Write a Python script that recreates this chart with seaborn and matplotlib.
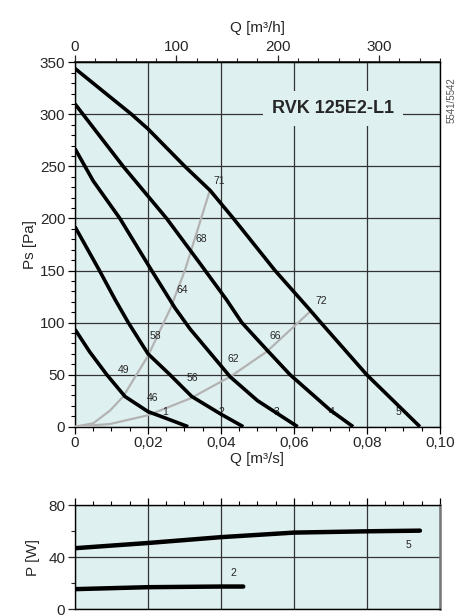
import numpy as np
import pandas as pd
import matplotlib
matplotlib.use('Agg')
import matplotlib.pyplot as plt
import seaborn as sns
from matplotlib.ticker import MultipleLocator, FixedLocator, FuncFormatter

# fan curves Ps(Q), Q in m3/s
q1 = [0, 0.004, 0.0087, 0.0137, 0.020, 0.025, 0.031]
p1 = [93.5, 72, 50, 29, 14.5, 8, 0]
q2 = [0, 0.0067, 0.011, 0.0146, 0.020, 0.026, 0.032, 0.040, 0.0461]
p2 = [192, 150, 122, 100, 70, 50, 29, 12, 0]
q3 = [0, 0.005, 0.0123, 0.021, 0.0274, 0.0315, 0.0425, 0.050, 0.061]
p3 = [267, 236, 200, 150, 114, 94, 48, 25, 0]
q4 = [0, 0.0132, 0.0251, 0.0342, 0.0415, 0.0457, 0.0525, 0.0589, 0.0699, 0.0762]
p4 = [310, 250, 200, 157, 122, 100, 74, 50, 16, 0]
q5 = [0, 0.0155, 0.020, 0.0301, 0.037, 0.0434, 0.0548, 0.0644, 0.0671, 0.0799, 0.0945]
p5 = [344, 300, 286, 250, 227, 200, 150, 112, 101, 50, 0]

# system curves (grey)
qa = [0, 0.005, 0.0096, 0.0132, 0.020, 0.0262, 0.0301, 0.037]
pa = [0, 3.3, 15.5, 29, 68, 114, 150, 227.5]
qb = [0, 0.0096, 0.020, 0.0315, 0.0425, 0.0525, 0.0644]
pb = [0, 2.6, 11, 27, 48, 72, 110.5]

# sound labels along the system curves
lbl_txt = ['71', '68', '64', '58', '49', '46', '56', '62', '66', '72']
lbl_q = [0.0395, 0.0345, 0.0295, 0.0219, 0.0132, 0.0213, 0.0321, 0.0434, 0.0548, 0.0675]
lbl_p = [236, 180, 131, 87, 54, 28, 47, 65, 87, 121]

# curve numbers
num_txt = ['1', '2', '3', '4', '5']
num_q = [0.0248, 0.0402, 0.0553, 0.0703, 0.0886]

# power curves
pw_q2 = [0, 0.02, 0.04, 0.0461]
pw_p2 = [15.5, 17, 17.5, 17.5]
pw_q5 = [0, 0.02, 0.04, 0.06, 0.08, 0.0945]
pw_p5 = [47, 51, 55.5, 59, 60, 60.5]

sns.set_theme(style='white')
plt.rcParams['font.family'] = ['Liberation Sans', 'DejaVu Sans']

bg = '#dff0f0'
grid_c = '#333333'

fig = plt.figure(figsize=(4.57, 6.16), dpi=100)
ax = fig.add_axes([0.1641, 0.3073, 0.7987, 0.5916])
axp = fig.add_axes([0.1641, 0.0109, 0.7987, 0.1688])

comma = FuncFormatter(lambda v, p: '0' if v == 0 else f'{v:.2f}'.replace('.', ','))

# ---- pressure chart
ax.set_facecolor(bg)
for q, p in [(q1, p1), (q2, p2), (q3, p3), (q4, p4), (q5, p5)]:
    sns.lineplot(x=q, y=p, ax=ax, color='black', lw=2.6, sort=False,
                 estimator=None, zorder=4, solid_capstyle='butt',
                 solid_joinstyle='round')
for q, p in [(qa, pa), (qb, pb)]:
    sns.lineplot(x=q, y=p, ax=ax, color='#b3b3b3', lw=1.6, sort=False,
                 estimator=None, zorder=3, solid_joinstyle='round')

for t, x, y in zip(lbl_txt, lbl_q, lbl_p):
    ax.text(x, y, t, fontsize=7.5, ha='center', va='center', zorder=5)
for t, x in zip(num_txt, num_q):
    ax.text(x, 14, t, fontsize=7.5, ha='center', va='center', zorder=3)

ax.set_xlim(0, 0.1)
ax.set_ylim(0, 350)
ax.xaxis.set_major_locator(MultipleLocator(0.02))
ax.xaxis.set_minor_locator(MultipleLocator(0.005))
ax.xaxis.set_major_formatter(comma)
ax.yaxis.set_major_locator(MultipleLocator(50))
ax.yaxis.set_minor_locator(MultipleLocator(10))
ax.grid(True, which='major', color=grid_c, lw=0.9, zorder=1)
ax.set_axisbelow(True)
ax.tick_params(axis='both', which='major', length=5, width=0.9, labelsize=11,
               bottom=True, left=True, direction='out', color='black', pad=2)
ax.tick_params(axis='both', which='minor', length=3, width=0.8,
               bottom=True, left=True, direction='out', color='black')
ax.set_xlabel('Q [m³/s]', fontsize=11, labelpad=1)
ax.set_ylabel('Ps [Pa]', fontsize=11, labelpad=2)
for s in ax.spines.values():
    s.set_color('black')
    s.set_linewidth(1)

top = ax.secondary_xaxis('top', functions=(lambda q: q * 3600, lambda h: h / 3600))
top.xaxis.set_major_locator(FixedLocator([0, 100, 200, 300]))
top.xaxis.set_minor_locator(MultipleLocator(20))
top.tick_params(which='major', length=5, width=0.9, labelsize=11, direction='out', pad=1)
top.tick_params(which='minor', length=3, width=0.8, direction='out')
top.set_xlabel('Q [m³/h]', fontsize=11, labelpad=6)

ax.text(0.0707, 306, 'RVK 125E2-L1', fontsize=13, fontweight='bold',
        ha='center', va='center', zorder=6,
        bbox=dict(boxstyle='square,pad=0.5', fc=bg, ec='none'))
fig.text(0.989, 0.838, '5541/5542', rotation=90, fontsize=7, color='#555555',
         ha='center', va='center')

# ---- power chart
axp.set_facecolor(bg)
for q, p in [(pw_q2, pw_p2), (pw_q5, pw_p5)]:
    sns.lineplot(x=q, y=p, ax=axp, color='black', lw=3.2, sort=False,
                 estimator=None, zorder=4, solid_joinstyle='round')
axp.text(0.0434, 28, '2', fontsize=7.5, ha='center', va='center')
axp.text(0.0913, 49.5, '5', fontsize=7.5, ha='center', va='center')
axp.set_xlim(0, 0.1)
axp.set_ylim(0, 80)
axp.xaxis.set_major_locator(MultipleLocator(0.02))
axp.xaxis.set_minor_locator(MultipleLocator(0.005))
axp.yaxis.set_major_locator(MultipleLocator(40))
axp.yaxis.set_minor_locator(MultipleLocator(20))
axp.grid(True, which='major', color=grid_c, lw=0.9, zorder=1)
axp.set_axisbelow(True)
axp.tick_params(axis='x', which='both', bottom=False, top=True, labelbottom=False,
                direction='out', color='black')
axp.tick_params(axis='x', which='major', length=5, width=0.9)
axp.tick_params(axis='x', which='minor', length=3, width=0.8)
axp.tick_params(axis='y', which='major', left=True, length=5, width=0.9,
                labelsize=11, direction='out', pad=2)
axp.tick_params(axis='y', which='minor', left=True, length=3, width=0.8, direction='out')
axp.set_ylabel('P [W]', fontsize=11, labelpad=6)
for s in axp.spines.values():
    s.set_color('black')
    s.set_linewidth(1)
axp.spines['right'].set_color('#777777')
axp.spines['right'].set_linewidth(1.8)

fig.savefig('out.png', dpi=100)
